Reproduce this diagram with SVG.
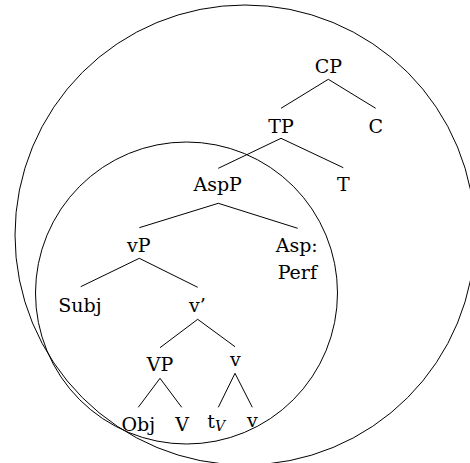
<svg xmlns="http://www.w3.org/2000/svg" width="470" height="463" viewBox="0 0 470 463">
<style>
text{font-family:"DejaVu Serif","Liberation Serif",serif;font-size:19px;fill:#000;text-anchor:middle}
.e line{stroke:#000;stroke-width:1}
.c{fill:none;stroke:#000;stroke-width:1}
</style>
<rect width="470" height="463" fill="#fff"/>
<g id="circles">
<circle class="c" cx="245" cy="235" r="230"/>
<circle class="c" cx="186.5" cy="293" r="151"/>
</g>
<g id="edges" class="e">
<line x1="328.3" y1="79.3" x2="281" y2="108.3"/>
<line x1="328.3" y1="79.3" x2="375.7" y2="108.3"/>
<line x1="281" y1="138.3" x2="218.3" y2="168.3"/>
<line x1="281" y1="138.3" x2="343.3" y2="167.7"/>
<line x1="218.3" y1="203.3" x2="139.3" y2="227.7"/>
<line x1="218.3" y1="203.3" x2="297.7" y2="228.3"/>
<line x1="139.3" y1="258.3" x2="80.7" y2="286.7"/>
<line x1="139.3" y1="258.3" x2="197.7" y2="287.3"/>
<line x1="197.7" y1="319.3" x2="160" y2="347.7"/>
<line x1="197.7" y1="319.3" x2="235" y2="346.7"/>
<line x1="160" y1="378.3" x2="138.3" y2="407.3"/>
<line x1="160" y1="378.3" x2="181.7" y2="407.3"/>
<line x1="235" y1="373.3" x2="218.3" y2="407.3"/>
<line x1="235" y1="373.3" x2="252.3" y2="407.3"/>
</g>
<g id="CP"><text x="328.3" y="72.5">CP</text></g>
<g id="TP"><text x="281" y="132.5">TP</text></g>
<g id="C"><text x="375.7" y="132.5">C</text></g>
<g id="AspP"><text x="217.7" y="190.7">AspP</text></g>
<g id="T"><text x="343.3" y="190.7">T</text></g>
<g id="vP"><text x="138.7" y="251.7">vP</text></g>
<g id="Asp"><text x="296.7" y="251.7">Asp:</text><text x="297.3" y="279.3">Perf</text></g>
<g id="Subj"><text x="80" y="312.3">Subj</text></g>
<g id="vbar"><text x="197.5" y="312.3">v’</text></g>
<g id="VP"><text x="160" y="371">VP</text></g>
<g id="vhead"><text x="235.3" y="366">v</text></g>
<g id="Obj"><text x="138.3" y="430.7">Obj</text></g>
<g id="V"><text x="182" y="430.7">V</text></g>
<g id="tV"><text x="207.3" y="428.3" style="text-anchor:start">t<tspan font-style="italic" font-size="14" dy="3">V</tspan></text></g>
<g id="v"><text x="252.3" y="426.7">v</text></g>
</svg>
